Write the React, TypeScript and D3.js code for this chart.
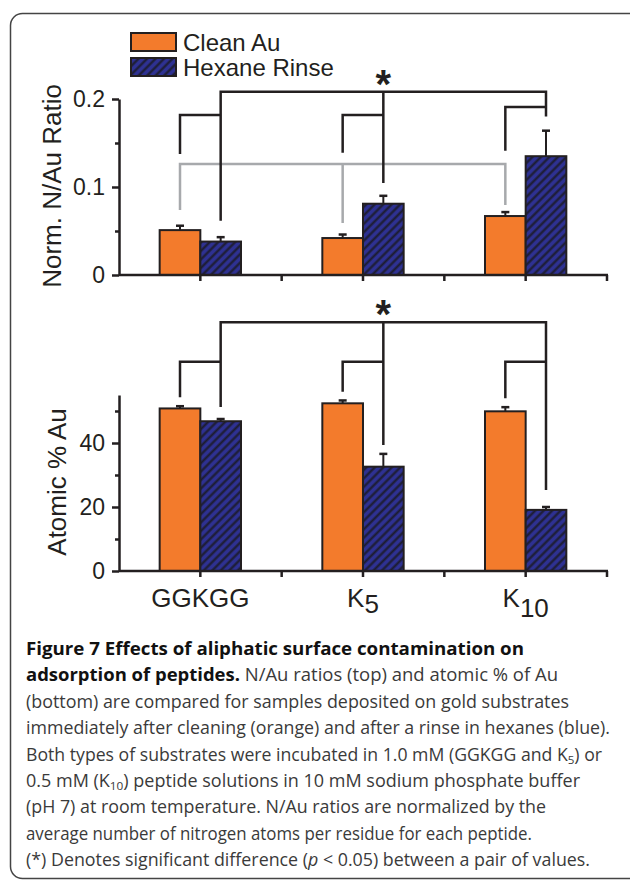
import React, { useEffect, useRef } from 'react';
import * as d3 from 'd3';

// groups and series
const categories = ['GGKGG', 'K5', 'K10'];
const categoryBase = ['GGKGG', 'K', 'K'];
const categorySub = ['', '5', '10'];
const series = ['Clean Au', 'Hexane Rinse'];

// top panel: normalized N/Au ratio
const ratioClean = [0.051, 0.042, 0.067];
const ratioCleanErr = [0.005, 0.004, 0.0045];
const ratioHexane = [0.038, 0.081, 0.135];
const ratioHexaneErr = [0.005, 0.009, 0.029];
const ratioTicks = [0, 0.1, 0.2];
const ratioMinorTicks = [0.05, 0.15];

// bottom panel: atomic % Au
const auClean = [50.8, 52.4, 49.9];
const auCleanErr = [0.7, 0.9, 1.3];
const auHexane = [46.8, 32.6, 19.1];
const auHexaneErr = [0.7, 4.0, 0.9];
const auTicks = [0, 20, 40];
const auMinorTicks = [10, 30, 50];

// significance brackets (data units of each panel)
const ratioBracketTop = 0.2083;
const ratioBracketInner = [0.1818, 0.1818, 0.191];
const ratioBracketCleanEnd = [0.1375, 0.139, 0.1412];
const ratioBracketHexaneEnd = [0.0617, 0.1045, 0.18];
const ratioGrayLevel = 0.126;
const ratioGrayEnd = [0.0739, 0.059, 0.0795];

const auBracketTop = 77.7;
const auBracketInner = [65.4, 65.4, 65.4];
const auBracketCleanEnd = [54.3, 56, 54];
const auBracketHexaneEnd = [51.25, 39.4, 25.3];

const captionLines = [
  [{ t: 'Figure 7 Effects of aliphatic surface contamination on', b: true }],
  [{ t: 'adsorption of peptides.', b: true }, { t: ' N/Au ratios (top) and atomic % of Au' }],
  [{ t: '(bottom) are compared for samples deposited on gold substrates' }],
  [{ t: 'immediately after cleaning (orange) and after a rinse in hexanes (blue).' }],
  [{ t: 'Both types of substrates were incubated in 1.0 mM (GGKGG and K' }, { t: '5', sub: true }, { t: ') or' }],
  [{ t: '0.5 mM (K' }, { t: '10', sub: true }, { t: ') peptide solutions in 10 mM sodium phosphate buffer' }],
  [{ t: '(pH 7) at room temperature. N/Au ratios are normalized by the' }],
  [{ t: 'average number of nitrogen atoms per residue for each peptide.' }],
  [{ t: '(*) Denotes significant difference (' }, { t: 'p', i: true }, { t: ' < 0.05) between a pair of values.' }],
];
const captionWidths = [498, 532, 543, 584, 576, 554, 520, 506, 564];

const ORANGE = '#f37b2c';
const BLUE = '#2e3192';
const INK = '#231f20';
const GRAY = '#a7a9ac';
const FONT = '"Liberation Sans", Arial, Helvetica, sans-serif';

const App = () => {
  const svgRef = useRef<SVGSVGElement>(null);

  useEffect(() => {
    const svg = d3.select(svgRef.current);
    svg.selectAll('*').remove();

    const defs = svg.append('defs');
    const pat = defs
      .append('pattern')
      .attr('id', 'hatch')
      .attr('patternUnits', 'userSpaceOnUse')
      .attr('width', 6)
      .attr('height', 6)
      .attr('patternTransform', 'rotate(45)');
    pat.append('rect').attr('width', 6).attr('height', 6).attr('fill', BLUE);
    pat.append('line')
      .attr('x1', 1.5).attr('y1', -1).attr('x2', 1.5).attr('y2', 7)
      .attr('stroke', '#1c1c30').attr('stroke-width', 2.2);

    // rounded frame
    svg.append('rect')
      .attr('x', 10.5).attr('y', 13.5)
      .attr('width', 660).attr('height', 865)
      .attr('rx', 12)
      .attr('fill', 'none')
      .attr('stroke', '#444')
      .attr('stroke-width', 1.5);

    const x = d3.scaleBand().domain(categories).range([119, 607]);
    const xs = d3.scaleBand().domain(series).range([0, x.bandwidth()]).paddingOuter(1);
    const bw = xs.bandwidth();
    const cx = (i: number, s: number) => (x(categories[i]) as number) + (xs(series[s]) as number) + bw / 2;

    const drawPanel = (opts: any) => {
      const { y, clean, cleanErr, hexane, hexaneErr, ticks, minor, fmt } = opts;
      const g = svg.append('g');

      // gray bracket (top panel only)
      if (opts.grayLevel !== undefined) {
        const p = d3.path();
        p.moveTo(cx(0, 0), y(opts.grayEnd[0]));
        p.lineTo(cx(0, 0), y(opts.grayLevel));
        p.lineTo(cx(2, 0), y(opts.grayLevel));
        p.lineTo(cx(2, 0), y(opts.grayEnd[2]));
        p.moveTo(cx(1, 0), y(opts.grayLevel));
        p.lineTo(cx(1, 0), y(opts.grayEnd[1]));
        g.append('path').attr('d', p.toString())
          .attr('fill', 'none').attr('stroke', GRAY).attr('stroke-width', 2.5);
      }

      // black significance brackets
      const p = d3.path();
      p.moveTo(cx(0, 1), y(opts.hexEnd[0]));
      p.lineTo(cx(0, 1), y(opts.top));
      p.lineTo(cx(2, 1), y(opts.top));
      p.lineTo(cx(2, 1), y(opts.hexEnd[2]));
      p.moveTo(cx(1, 1), y(opts.top));
      p.lineTo(cx(1, 1), y(opts.hexEnd[1]));
      categories.forEach((c, i) => {
        p.moveTo(cx(i, 0), y(opts.cleanEnd[i]));
        p.lineTo(cx(i, 0), y(opts.inner[i]));
        p.lineTo(cx(i, 1), y(opts.inner[i]));
      });
      g.append('path').attr('d', p.toString())
        .attr('fill', 'none').attr('stroke', INK).attr('stroke-width', 2.5);

      g.append('text')
        .attr('x', cx(1, 1))
        .attr('y', y(opts.top) + 6)
        .attr('text-anchor', 'middle')
        .attr('font-family', FONT)
        .attr('font-weight', 'bold')
        .attr('font-size', 40)
        .attr('fill', INK)
        .text('*');

      // bars
      const rows = categories.flatMap((c, i) => [
        { i, s: 0, v: clean[i], e: cleanErr[i] },
        { i, s: 1, v: hexane[i], e: hexaneErr[i] },
      ]);
      g.selectAll('rect.bar')
        .data(rows)
        .join('rect')
        .attr('class', 'bar')
        .attr('x', (d) => cx(d.i, d.s) - bw / 2)
        .attr('y', (d) => y(d.v))
        .attr('width', bw)
        .attr('height', (d) => y(0) - y(d.v))
        .attr('fill', (d) => (d.s === 0 ? ORANGE : 'url(#hatch)'))
        .attr('stroke', INK)
        .attr('stroke-width', 2);

      // error bars (upper only)
      const eb = g.selectAll('g.err').data(rows).join('g').attr('class', 'err')
        .attr('stroke', INK).attr('stroke-width', 2);
      eb.append('line')
        .attr('x1', (d) => cx(d.i, d.s)).attr('x2', (d) => cx(d.i, d.s))
        .attr('y1', (d) => y(d.v)).attr('y2', (d) => y(d.v + d.e));
      eb.append('line')
        .attr('x1', (d) => cx(d.i, d.s) - 4).attr('x2', (d) => cx(d.i, d.s) + 4)
        .attr('y1', (d) => y(d.v + d.e)).attr('y2', (d) => y(d.v + d.e))
        .attr('stroke-width', 2.5);

      // y axis
      const yAxis = g.append('g').attr('transform', 'translate(119,0)')
        .call(d3.axisLeft(y).tickValues(ticks).tickSize(7).tickSizeOuter(0).tickPadding(7).tickFormat(fmt));
      yAxis.select('.domain').attr('stroke', INK).attr('stroke-width', 2.5);
      yAxis.selectAll('.tick line').attr('stroke', INK).attr('stroke-width', 2.5);
      yAxis.selectAll('.tick text').attr('font-family', FONT).attr('font-size', 23).attr('fill', INK);
      const yMinor = g.append('g').attr('transform', 'translate(119,0)')
        .call(d3.axisLeft(y).tickValues(minor).tickSize(4).tickSizeOuter(0).tickFormat(() => ''));
      yMinor.select('.domain').remove();
      yMinor.selectAll('.tick line').attr('stroke', INK).attr('stroke-width', 2.5);

      // x axis with ticks at band centres and edges
      const y0 = y(0);
      g.append('line')
        .attr('x1', 119).attr('x2', 608).attr('y1', y0).attr('y2', y0)
        .attr('stroke', INK).attr('stroke-width', 2.5);
      const xt = categories.flatMap((c) => [(x(c) as number) + x.bandwidth() / 2, (x(c) as number) + x.bandwidth()]);
      g.selectAll('line.xt').data(xt).join('line').attr('class', 'xt')
        .attr('x1', (d) => d).attr('x2', (d) => d)
        .attr('y1', y0).attr('y2', y0 + 6)
        .attr('stroke', INK).attr('stroke-width', 2.5);

      g.append('text')
        .attr('transform', `translate(${opts.labelX},${(y.range()[0] + y.range()[1]) / 2 + opts.labelDy}) rotate(-90)`)
        .attr('text-anchor', 'middle')
        .attr('font-family', FONT)
        .attr('font-size', 26)
        .attr('fill', INK)
        .text(opts.label);
      return g;
    };

    drawPanel({
      y: d3.scaleLinear().domain([0, 0.2]).range([275, 99]),
      clean: ratioClean, cleanErr: ratioCleanErr, hexane: ratioHexane, hexaneErr: ratioHexaneErr,
      ticks: ratioTicks, minor: ratioMinorTicks,
      fmt: (d: number) => (d === 0 ? '0' : d3.format('.1f')(d)),
      top: ratioBracketTop, inner: ratioBracketInner, cleanEnd: ratioBracketCleanEnd, hexEnd: ratioBracketHexaneEnd,
      grayLevel: ratioGrayLevel, grayEnd: ratioGrayEnd,
      label: 'Norm. N/Au Ratio', labelX: 61, labelDy: -1,
    });

    const bottom = drawPanel({
      y: d3.scaleLinear().domain([0, 55]).range([571, 395]),
      clean: auClean, cleanErr: auCleanErr, hexane: auHexane, hexaneErr: auHexaneErr,
      ticks: auTicks, minor: auMinorTicks,
      fmt: (d: number) => String(d),
      top: auBracketTop, inner: auBracketInner, cleanEnd: auBracketCleanEnd, hexEnd: auBracketHexaneEnd,
      label: 'Atomic % Au', labelX: 66, labelDy: -1,
    });

    // category labels
    categories.forEach((c, i) => {
      const t = bottom.append('text')
        .attr('x', (x(c) as number) + x.bandwidth() / 2)
        .attr('y', 607)
        .attr('text-anchor', 'middle')
        .attr('font-family', FONT)
        .attr('font-size', 26)
        .attr('fill', INK);
      t.append('tspan').text(categoryBase[i]);
      if (categorySub[i]) t.append('tspan').attr('dy', i === 1 ? 6 : 10).text(categorySub[i]);
    });

    // legend
    const legend = svg.append('g').attr('font-family', FONT).attr('font-size', 24).attr('fill', INK);
    series.forEach((s, k) => {
      legend.append('rect')
        .attr('x', 131).attr('y', 33 + k * 25)
        .attr('width', 45).attr('height', 18)
        .attr('fill', k === 0 ? ORANGE : 'url(#hatch)')
        .attr('stroke', INK).attr('stroke-width', 2);
      legend.append('text').attr('x', 183).attr('y', 51 + k * 25).text(s);
    });

    // caption
    const cap = svg.append('g').attr('font-family', '"Open Sans", "Noto Sans", sans-serif').attr('font-size', 17.5);
    captionLines.forEach((line, li) => {
      const t = cap.append('text')
        .attr('x', 26)
        .attr('y', 655 + li * 26.4)
        .attr('fill', '#3a3a3a')
        .attr('textLength', captionWidths[li])
        .attr('lengthAdjust', 'spacingAndGlyphs');
      let shifted = false;
      line.forEach((seg: any) => {
        const ts = t.append('tspan').text(seg.t);
        if (seg.b) ts.attr('font-weight', 700).attr('fill', '#111');
        if (seg.i) ts.attr('font-style', 'italic');
        if (seg.sub) {
          ts.attr('font-size', 11.5).attr('dy', 3);
          shifted = true;
        } else if (shifted) {
          ts.attr('dy', -3);
          shifted = false;
        }
      });
    });
  }, []);

  return <svg ref={svgRef} width={630} height={880} style={{ position: 'absolute', left: 0, top: 0 }} />;
};

export default App;
